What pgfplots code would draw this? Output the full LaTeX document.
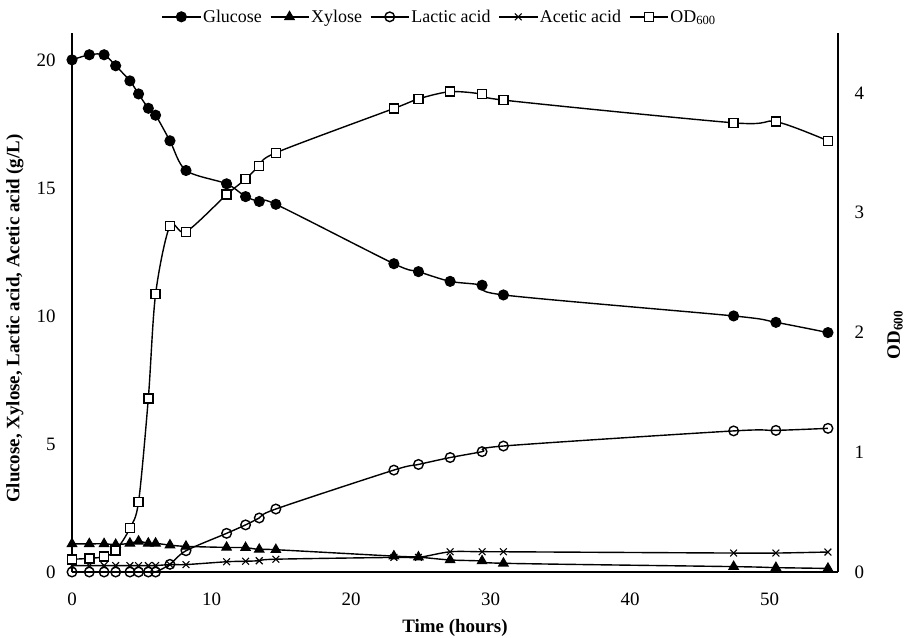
\documentclass[border=0pt]{standalone}
\usepackage{fontspec}
\setmainfont{Liberation Serif}
\usepackage{pgfplots}
\usepackage{pgfplotstable}
\pgfplotsset{compat=1.18}
\pgfplotstableread{
t glu xyl lac ace od
0 20.0 1.10 0 0.25 0.106
1.24 20.2 1.10 0 0.25 0.114
2.3 20.2 1.10 0 0.25 0.128
3.13 19.77 1.07 0 0.25 0.178
4.15 19.18 1.12 0 0.25 0.365
4.77 18.67 1.20 0 0.25 0.585
5.47 18.11 1.12 0 0.25 1.45
5.99 17.84 1.12 0 0.25 2.32
7.02 16.84 1.05 0.3 0.29 2.89
8.17 15.68 1.00 0.83 0.29 2.84
11.08 15.16 0.96 1.51 0.40 3.15
12.44 14.66 0.95 1.84 0.42 3.28
13.42 14.47 0.88 2.11 0.44 3.39
14.61 14.36 0.87 2.46 0.50 3.50
23.07 12.04 0.62 3.98 0.57 3.87
24.83 11.73 0.58 4.20 0.57 3.95
27.1 11.35 0.47 4.47 0.79 4.01
29.39 11.20 0.43 4.70 0.79 3.99
30.92 10.82 0.34 4.92 0.79 3.94
47.42 10.00 0.21 5.51 0.74 3.75
50.45 9.75 0.17 5.53 0.74 3.76
54.18 9.35 0.14 5.61 0.78 3.60
}\data
\begin{document}
\begin{tikzpicture}
\useasboundingbox (-72bp,-66bp) rectangle (837bp,572bp);
\pgfplotsset{
  common/.style={
    at={(0,0)}, anchor=south west,
    scale only axis, width=766bp, height=539bp,
    xmin=0, xmax=54.9,
    clip=false,
    major tick length=0pt,
    axis line style={line width=1.6bp,-},
    tick label style={font=\fontsize{19}{22}\selectfont},
    /pgf/number format/assume math mode=true,
    label style={font=\fontsize{19}{22}\selectfont\bfseries},
  },
  ser/.style={black, line width=1.4bp, smooth, tension=0.5, mark options={solid, line width=1.1bp}},
  legend image code/.code={\draw[#1, mark repeat=2, mark phase=2] plot coordinates {(0bp,0bp) (19bp,0bp) (38bp,0bp)};},
}
\begin{axis}[common,
  ymin=0, ymax=21.05,
  axis x line*=bottom, axis y line*=left,
  xtick={0,10,...,50}, ytick={0,5,...,20},
  xticklabel style={yshift=-17bp},
  yticklabel style={xshift=-13bp},
  xlabel={Time (hours)},
  ylabel={Glucose, Xylose, Lactic acid, Acetic acid (g/L)},
  xlabel style={at={(rel axis cs:0.5,-0.104)}, anchor=center},
  ylabel style={at={(rel axis cs:-0.0744,0.47)}, anchor=center},
  legend style={at={(rel axis cs:0.48,1.03)}, anchor=center, draw=none, fill=none,
    font=\fontsize{18}{21}\selectfont, legend columns=5,
    /tikz/every even column/.append style={column sep=6bp}},
  legend cell align=left,
]
\addplot[ser, mark=*, mark size=5bp] table[x=t,y=glu] {\data};
\addlegendentry{Glucose}
\addplot[ser, mark=triangle*, mark size=5.4bp] table[x=t,y=xyl] {\data};
\addlegendentry{Xylose}
\addplot[ser, mark=o, mark size=4.8bp, mark options={fill=white}] table[x=t,y=lac] {\data};
\addlegendentry{Lactic acid}
\addplot[ser, mark=x, mark size=4.8bp] table[x=t,y=ace] {\data};
\addlegendentry{Acetic acid}
\addlegendimage{ser, mark=square*, mark size=4.5bp, mark options={fill=white}}
\addlegendentry{OD\textsubscript{600}}
\end{axis}
\begin{axis}[common,
  ymin=0, ymax=4.5,
  axis y line*=right, axis x line=none,
  ytick={0,1,2,3,4},
  yticklabel style={xshift=13bp},
  ylabel={OD\textsubscript{600}},
  ylabel style={at={(rel axis cs:1.0744,0.44)}, anchor=center},
]
\addplot[ser, mark=square*, mark size=4.5bp, mark options={fill=white}] table[x=t,y=od] {\data};
\end{axis}
\end{tikzpicture}
\end{document}
